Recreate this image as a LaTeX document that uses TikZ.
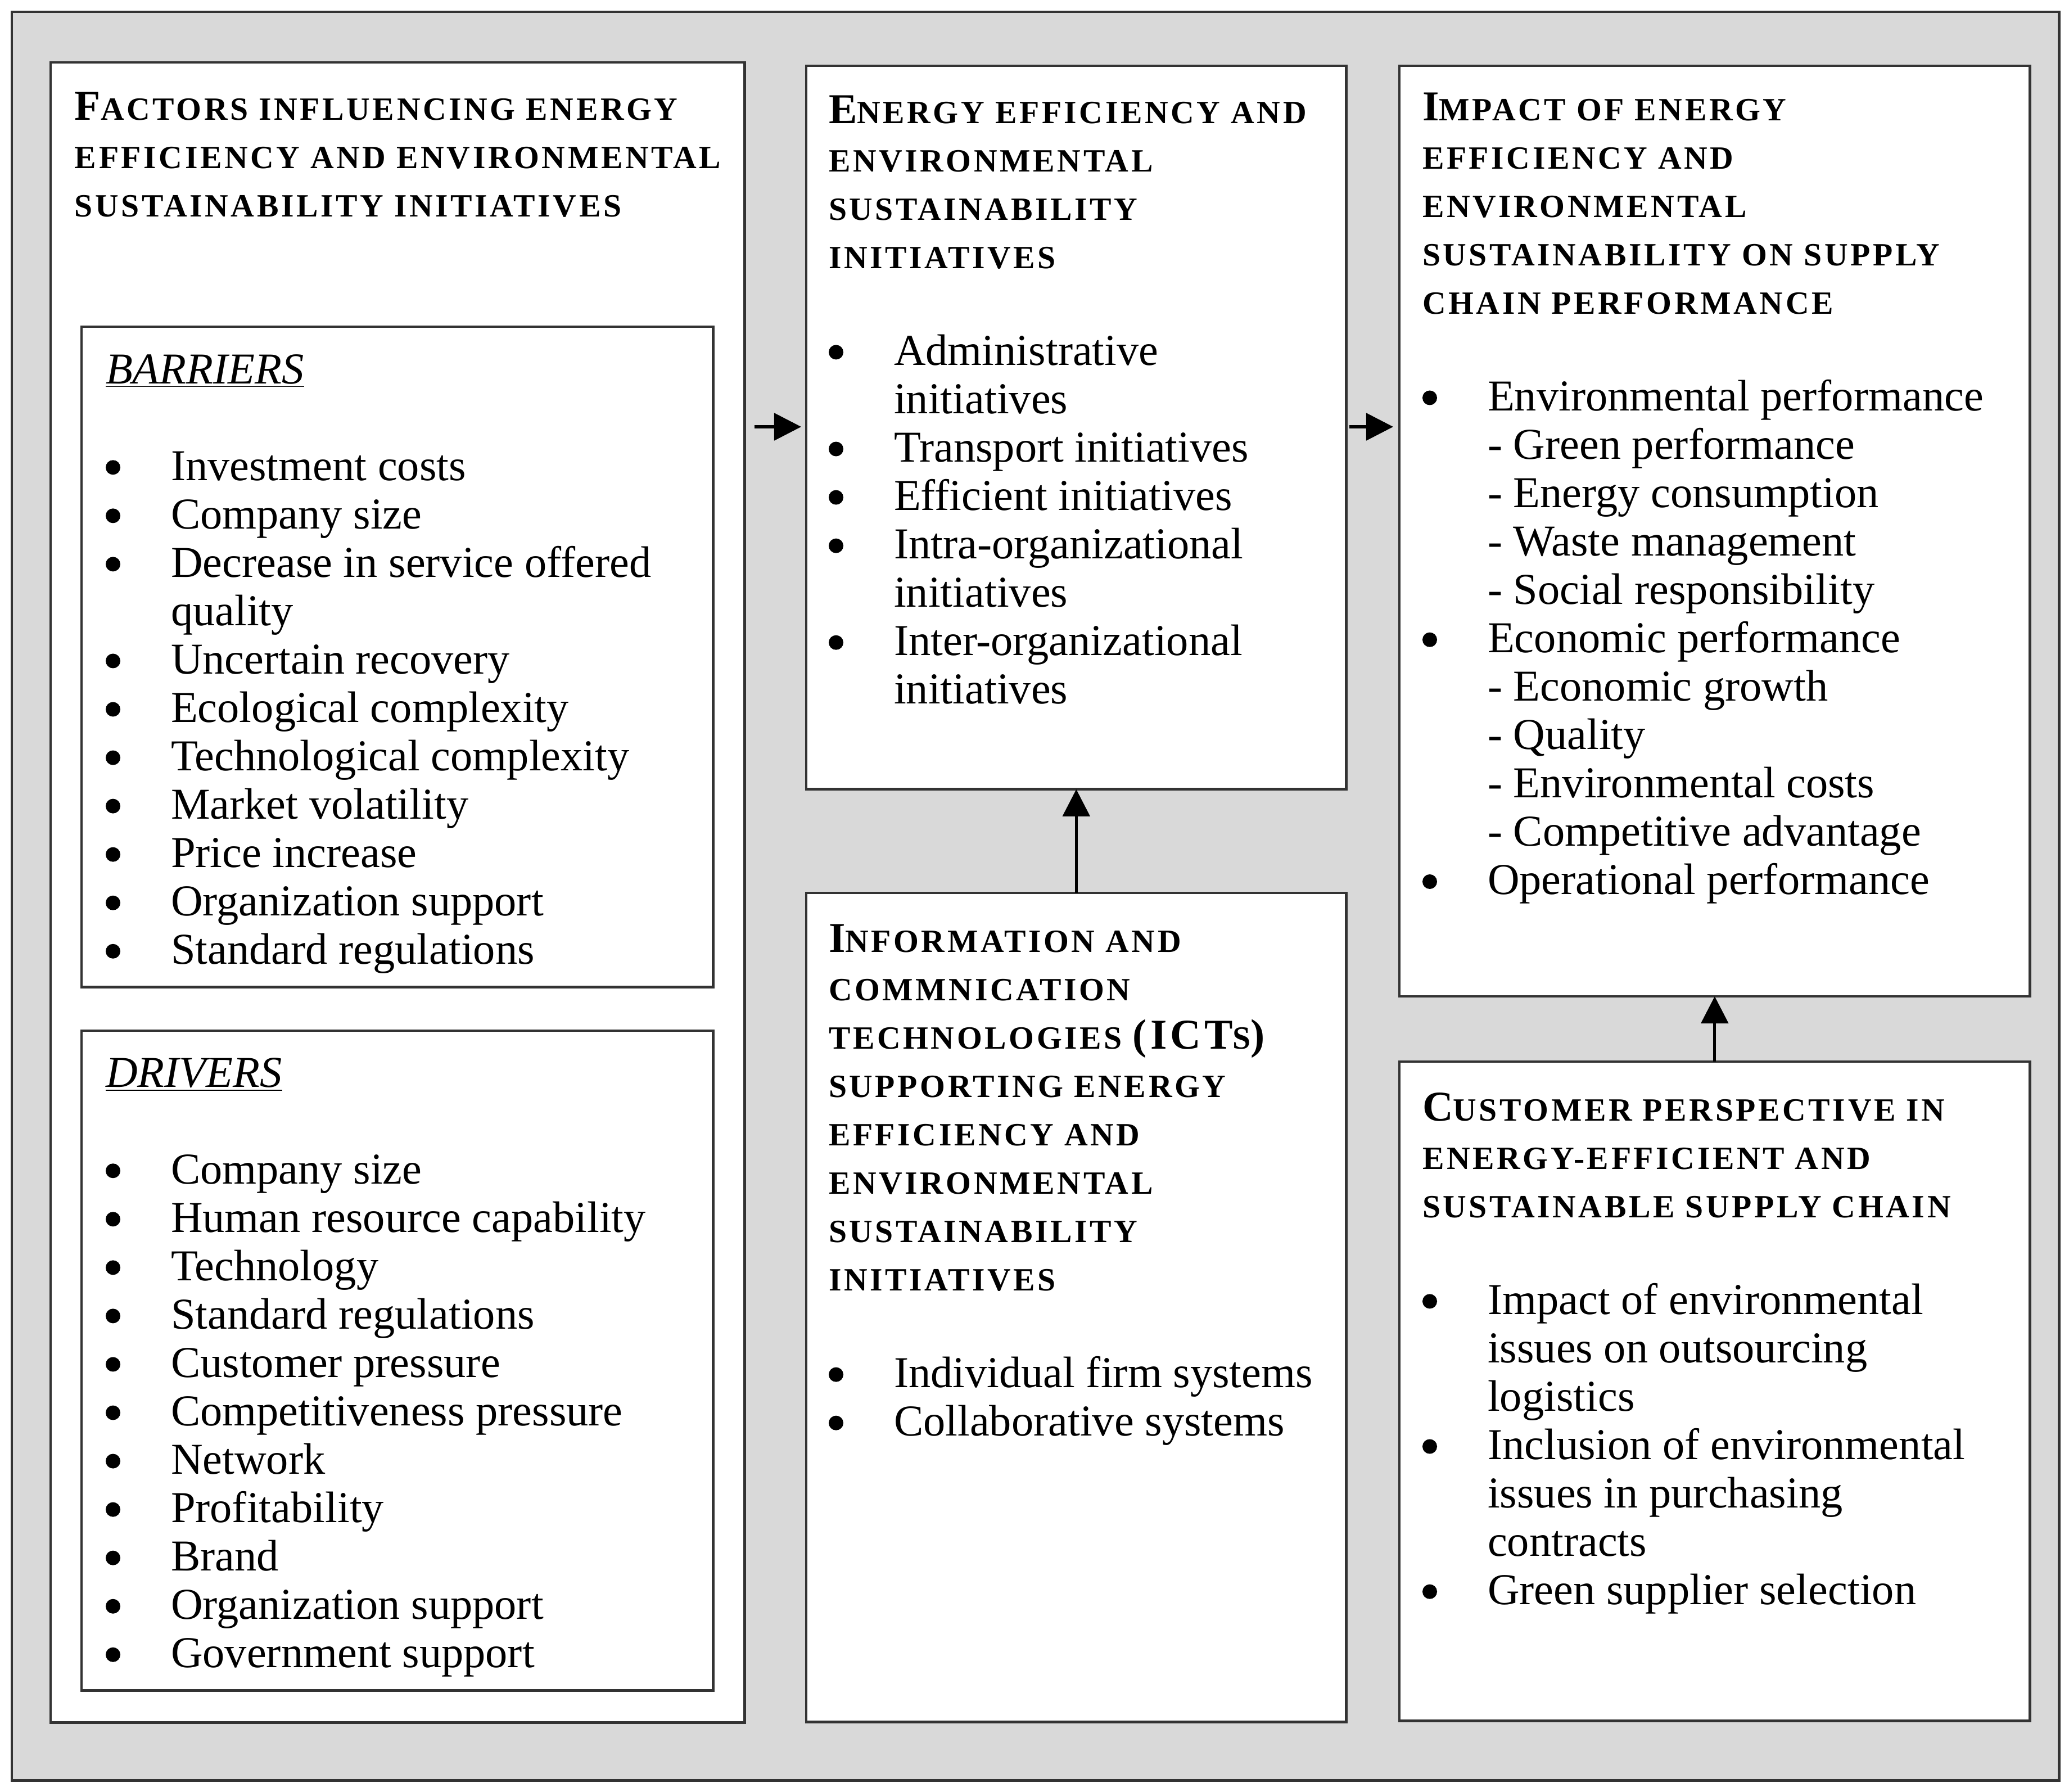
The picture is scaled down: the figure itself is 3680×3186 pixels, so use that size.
\documentclass[tikz,border=0pt]{standalone}
\usepackage{fontspec}
\setmainfont{Liberation Serif}
\newfontfamily\titlefont[LetterSpace=8]{Liberation Serif}
\usetikzlibrary{arrows.meta}
\definecolor{framegray}{HTML}{D9D9D9}
\definecolor{edgecol}{HTML}{333333}
\newcommand\bodyfont{\fontsize{22.3}{24.47}\selectfont}
\newcommand\tcap[1]{{\titlefont\bfseries\fontsize{21.5}{24.47}\selectfont #1}}
\newcommand\tsm[1]{{\titlefont\bfseries\fontsize{16.4}{24.47}\selectfont #1}}
\newcommand\bul{\makebox[33pt][l]{\tikz[baseline=-6.5pt]\fill (3.7pt,0pt) circle[radius=3.7pt];}}
\newcommand\cont{\hspace*{33pt}}
\newcommand\blk[1]{\parbox[t]{14cm}{\raggedright\bodyfont #1}}
\begin{document}
\begin{tikzpicture}[x=0.01cm,y=-0.01cm,
  box/.style={draw=edgecol, line width=1.4pt, fill=white, rectangle, anchor=north west, inner sep=0pt, outer sep=0pt},
  txt/.style={anchor=base west, inner sep=0pt, outer sep=0pt},
  arr/.style={line width=1.5pt, -{Triangle[length=0.48cm,width=0.48cm]}}]
\useasboundingbox[fill=white] (0,0) rectangle (3680,3186);
\node[box, fill=framegray, minimum width=36.39cm, minimum height=31.44cm] (frame) at (21,21) {};
% boxes
\node[box, minimum width=12.34cm, minimum height=29.51cm] (A) at (90,111) {};
\node[box, minimum width=11.23cm, minimum height=11.74cm] (bar) at (145,581) {};
\node[box, minimum width=11.23cm, minimum height=11.73cm] (drv) at (145,1833) {};
\node[box, minimum width=9.60cm, minimum height=12.86cm] (B) at (1434,117) {};
\node[box, minimum width=9.60cm, minimum height=14.74cm] (C) at (1434,1588) {};
\node[box, minimum width=11.21cm, minimum height=16.54cm] (D) at (2489,117) {};
\node[box, minimum width=11.21cm, minimum height=11.72cm] (E) at (2489,1888) {};
% texts
\node[txt] (tA) at (133,213) {\blk{%
\tcap{F}\tsm{ACTORS INFLUENCING ENERGY}\\
\tsm{EFFICIENCY AND ENVIRONMENTAL}\\
\tsm{SUSTAINABILITY INITIATIVES}}};
\node[txt] (tbar) at (188,682) {\blk{%
\underline{\textit{BARRIERS}}\\
\mbox{}\\
\bul Investment costs\\
\bul Company size\\
\bul Decrease in service offered\\
\cont quality\\
\bul Uncertain recovery\\
\bul Ecological complexity\\
\bul Technological complexity\\
\bul Market volatility\\
\bul Price increase\\
\bul Organization support\\
\bul Standard regulations}};
\node[txt] (tdrv) at (188,1933) {\blk{%
\underline{\textit{DRIVERS}}\\
\mbox{}\\
\bul Company size\\
\bul Human resource capability\\
\bul Technology\\
\bul Standard regulations\\
\bul Customer pressure\\
\bul Competitiveness pressure\\
\bul Network\\
\bul Profitability\\
\bul Brand\\
\bul Organization support\\
\bul Government support}};
\node[txt] (tB) at (1474,219) {\blk{%
\tcap{E}\tsm{NERGY EFFICIENCY AND}\\
\tsm{ENVIRONMENTAL}\\
\tsm{SUSTAINABILITY}\\
\tsm{INITIATIVES}\\
\mbox{}\\
\bul Administrative\\
\cont initiatives\\
\bul Transport initiatives\\
\bul Efficient initiatives\\
\bul Intra-organizational\\
\cont initiatives\\
\bul Inter-organizational\\
\cont initiatives}};
\node[txt] (tC) at (1474,1693) {\blk{%
\tcap{I}\tsm{NFORMATION AND}\\
\tsm{COMMNICATION}\\
\tsm{TECHNOLOGIES }\tcap{(ICT}\tsm{S}\tcap{)}\\
\tsm{SUPPORTING ENERGY}\\
\tsm{EFFICIENCY AND}\\
\tsm{ENVIRONMENTAL}\\
\tsm{SUSTAINABILITY}\\
\tsm{INITIATIVES}\\
\mbox{}\\
\bul Individual firm systems\\
\bul Collaborative systems}};
\node[txt] (tD) at (2530,214) {\blk{%
\tcap{I}\tsm{MPACT OF ENERGY}\\
\tsm{EFFICIENCY AND}\\
\tsm{ENVIRONMENTAL}\\
\tsm{SUSTAINABILITY ON SUPPLY}\\
\tsm{CHAIN PERFORMANCE}\\
\mbox{}\\
\bul Environmental performance\\
\cont - Green performance\\
\cont - Energy consumption\\
\cont - Waste management\\
\cont - Social responsibility\\
\bul Economic performance\\
\cont - Economic growth\\
\cont - Quality\\
\cont - Environmental costs\\
\cont - Competitive advantage\\
\bul Operational performance}};
\node[txt] (tE) at (2530,1993) {\blk{%
\tcap{C}\tsm{USTOMER PERSPECTIVE IN}\\
\tsm{ENERGY-EFFICIENT AND}\\
\tsm{SUSTAINABLE SUPPLY CHAIN}\\
\mbox{}\\
\bul Impact of environmental\\
\cont issues on outsourcing\\
\cont logistics\\
\bul Inclusion of environmental\\
\cont issues in purchasing\\
\cont contracts\\
\bul Green supplier selection}};
% connectors
\coordinate (lvl) at (0,759);
\draw[arr, shorten <=0.17cm, shorten >=0.09cm] (A.east |- lvl) -- (B.west |- lvl);
\draw[arr, shorten <=0.05cm, shorten >=0.11cm] (B.east |- lvl) -- (D.west |- lvl);
\draw[arr] (C.north) -- (B.south);
\draw[arr] (E.north) -- (D.south);
\end{tikzpicture}
\end{document}
